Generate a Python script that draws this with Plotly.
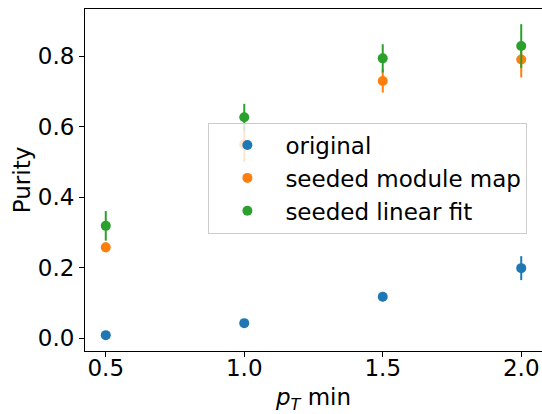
import plotly.graph_objects as go

pt_min = [0.5, 1.0, 1.5, 2.0]

series_names = ["original", "seeded module map", "seeded linear fit"]
colors = ["#1f77b4", "#ff7f0e", "#2ca02c"]

purity_original = [0.009, 0.043, 0.118, 0.199]
err_original = [0.004, 0.005, 0.013, 0.034]

purity_module_map = [0.258, 0.55, 0.730, 0.791]
err_module_map = [0.014, 0.05, 0.033, 0.051]

purity_linear_fit = [0.319, 0.627, 0.794, 0.829]
err_linear_fit = [0.042, 0.038, 0.040, 0.062]

values = [purity_original, purity_module_map, purity_linear_fit]
errors = [err_original, err_module_map, err_linear_fit]

FONT = "DejaVu Sans"
FS = 23

fig = go.Figure()
for name, c, v, e in zip(series_names, colors, values, errors):
    fig.add_trace(go.Scatter(
        x=pt_min, y=v, name=name, mode="markers",
        marker=dict(color=c, size=10, line=dict(width=0)),
        error_y=dict(type="data", array=e, visible=True, color=c,
                     thickness=2, width=0),
    ))

fig.update_layout(
    width=542, height=414,
    margin=dict(l=85, r=0, t=9, b=63, autoexpand=False),
    paper_bgcolor="white", plot_bgcolor="white",
    font=dict(family=FONT, size=FS, color="black"),
    showlegend=True,
    legend=dict(
        x=0.27, y=0.668, xanchor="left", yanchor="top",
        bgcolor="rgba(255,255,255,0.8)", bordercolor="#cccccc", borderwidth=1,
        font=dict(family=FONT, size=FS, color="black"),
        itemwidth=66,
    ),
)
fig.update_xaxes(
    range=[0.425, 2.075], tickvals=pt_min, ticktext=["0.5", "1.0", "1.5", "2.0"],
    showgrid=False, zeroline=False, showline=True, linecolor="black", linewidth=1,
    mirror=True, ticks="outside", ticklen=5, tickcolor="black", tickwidth=1,
    ticklabelstandoff=-9,
    title=dict(text="<i>p</i><sub><i>T</i></sub> min", standoff=19,
               font=dict(family=FONT, size=FS)),
    automargin=False,
)
fig.update_yaxes(
    range=[-0.036, 0.934], tickvals=[0.0, 0.2, 0.4, 0.6, 0.8],
    ticktext=["0.0", "0.2", "0.4", "0.6", "0.8"],
    showgrid=False, zeroline=False, showline=True, linecolor="black", linewidth=1,
    mirror=False, ticks="outside", ticklen=5, tickcolor="black", tickwidth=1,
    ticklabelstandoff=0,
    title=dict(text="Purity", standoff=0, font=dict(family=FONT, size=FS)),
    automargin=False,
)

fig.write_html("out.html")
